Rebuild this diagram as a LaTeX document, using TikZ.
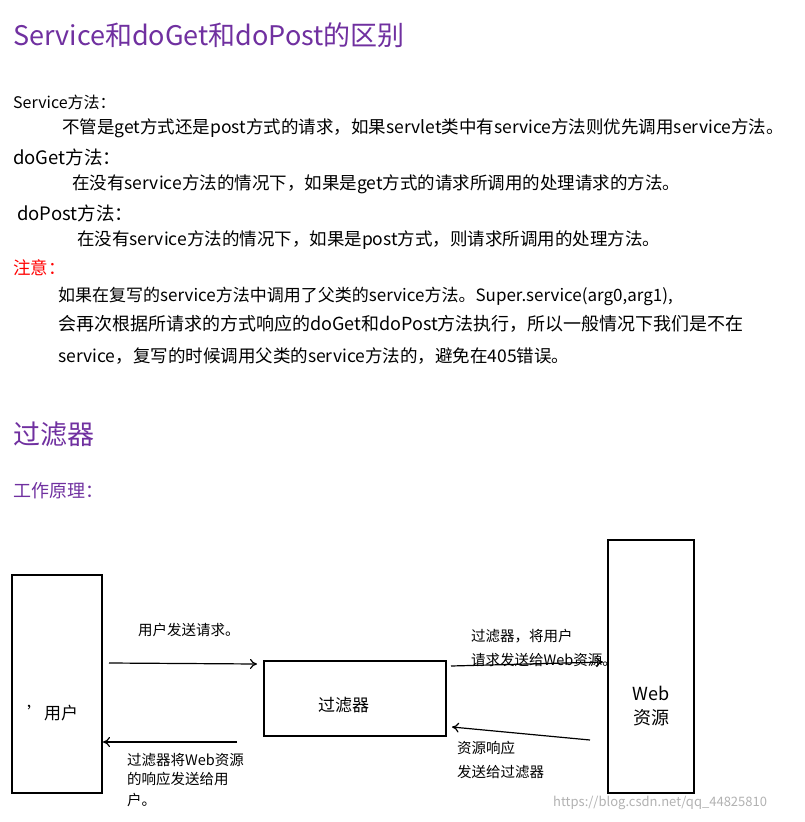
\documentclass[tikz,border=0pt]{standalone}
\usepackage{fontspec}
\setmainfont{Noto Sans CJK SC}
\usetikzlibrary{arrows.meta}
\definecolor{ptitle}{HTML}{7030A0}
\begin{document}
\begin{tikzpicture}[x=1pt,y=-1pt,
  t/.style={anchor=west,inner sep=0pt,font=\fontsize{17.5}{20}\selectfont},
  h/.style={anchor=west,inner sep=0pt,text=ptitle,font=\fontsize{27}{32}\selectfont},
  s/.style={anchor=west,inner sep=0pt,font=\fontsize{14.5}{17}\selectfont},
  box/.style={draw,line width=1.2pt},
  arr/.style={-{To[length=7pt,width=10pt]},line width=1.2pt}]
\useasboundingbox[fill=white] (0,0) rectangle (804,822);
\node[h] (h1) at (13,35) {Service和doGet和doPost的区别};
\node[t,font=\fontsize{16}{19}\selectfont] (a1) at (13,102) {Service方法：};
\node[t] (a2) at (62,128) {不管是get方式还是post方式的请求，如果servlet类中有service方法则优先调用service方法。};
\node[t,font=\fontsize{18.5}{21}\selectfont] (b1) at (13,157) {doGet方法：};
\node[t] (b2) at (72,184) {在没有service方法的情况下，如果是get方式的请求所调用的处理请求的方法。};
\node[t,font=\fontsize{18.5}{21}\selectfont] (c1) at (17,213) {doPost方法：};
\node[t] (c2) at (77,240) {在没有service方法的情况下，如果是post方式，则请求所调用的处理方法。};
\node[t,text=red] (d1) at (13,268) {注意：};
\node[t,font=\fontsize{17}{20}\selectfont] (d2) at (58,296) {如果在复写的service方法中调用了父类的service方法。Super.service(arg0,arg1),};
\node[t,font=\fontsize{18}{21}\selectfont] (d3) at (58,324) {会再次根据所请求的方式响应的doGet和doPost方法执行，所以一般情况下我们是不在};
\node[t] (d4) at (58,356) {service，复写的时候调用父类的service方法的，避免在405错误。};
\node[h] (h2) at (13,434) {过滤器};
\node[t,text=ptitle,font=\fontsize{18}{21}\selectfont] (w) at (13,491) {工作原理：};
\draw[box] (12,575) rectangle (102,793);
\draw[box] (264,661) rectangle (446,736);
\draw[box] (608,540) rectangle (694,793);
\node[t,font=\fontsize{17}{20}\selectfont] (u) at (27,713) {\char39用户};
\node[t,font=\fontsize{17}{20}\selectfont] (f) at (318,705) {过滤器};
\node[inner sep=0pt,align=center,font=\fontsize{18}{24}\selectfont] (web) at (651,706) {Web\\资源};
\coordinate (p1) at (109,663); \coordinate (p2) at (257,664);
\coordinate (p3) at (451,666); \coordinate (p4) at (603,662);
\coordinate (p5) at (590,740); \coordinate (p6) at (452,727);
\coordinate (p7) at (237,742); \coordinate (p8) at (103,742);
\draw[arr] (p1) -- (p2);
\draw[arr] (p3) -- (p4);
\draw[arr] (p5) -- (p6);
\draw[arr] (p7) -- (p8);
\node[s] (l1) at (138,630) {用户发送请求。};
\node[s] (l2) at (471,636) {过滤器，将用户};
\node[s] (l3) at (471,660) {请求发送给Web资源。};
\node[s] (l4) at (457,748) {资源响应};
\node[s] (l5) at (457,772) {发送给过滤器};
\node[s] (l6) at (127,760) {过滤器将Web资源};
\node[s] (l7) at (127,779) {的响应发送给用};
\node[s] (l8) at (127,800) {户。};
\node[anchor=west,inner sep=0pt,text=black!30,font=\fontsize{13}{15}\selectfont] (wm) at (553,803) {https://blog.csdn.net/qq\_44825810};
\end{tikzpicture}
\end{document}
